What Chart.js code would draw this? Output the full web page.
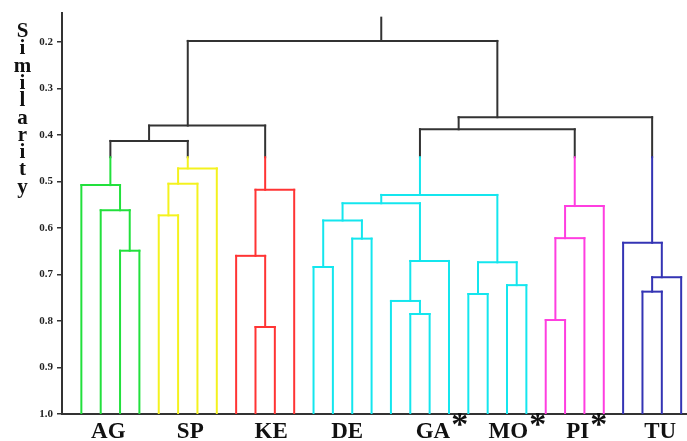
<!DOCTYPE html>
<html>
<head>
<meta charset="utf-8">
<script src="https://cdn.jsdelivr.net/npm/chart.js@4/dist/chart.umd.min.js"></script>
<style>
  html, body { margin: 0; padding: 0; background: #ffffff; }
  #wrap { width: 687px; height: 441px; position: relative; }
</style>
</head>
<body>
<div id="wrap"><canvas id="c" width="687" height="441"></canvas></div>
<script>
// ---------------- DATA ----------------
const groupLabels = ['AG', 'SP', 'KE', 'DE', 'GA', 'MO', 'PI', 'TU'];
const groupMarked = [false, false, false, false, true, true, true, false];
// cluster index of each of the 32 leaves (left to right)
const leafCluster = [0,0,0,0, 1,1,1,1, 2,2,2,2, 3,3,3,3,3,3,3,3,3,3,3,3, 4,4,4,4, 5,5,5,5];
// leaf index range of each label group
const groupFirstLeaf = [0, 4, 8, 12, 16, 20, 24, 28];
const groupLastLeaf  = [3, 7, 11, 15, 19, 23, 27, 31];
// merges: [childA, childB, similarity]; ids 0..31 are leaves, 32.. are merges in order
const merges = [
  [2, 3, 0.649],   // 32
  [1, 32, 0.562],  // 33
  [0, 33, 0.508],  // 34  AG
  [4, 5, 0.573],   // 35
  [35, 6, 0.505],  // 36
  [36, 7, 0.472],  // 37  SP
  [9, 10, 0.813],  // 38
  [8, 38, 0.660],  // 39
  [39, 11, 0.518], // 40  KE
  [12, 13, 0.684], // 41
  [14, 15, 0.623], // 42
  [41, 42, 0.584], // 43  DE
  [17, 18, 0.785], // 44
  [16, 44, 0.757], // 45
  [45, 19, 0.671], // 46  GA
  [43, 46, 0.547], // 47
  [20, 21, 0.742], // 48
  [22, 23, 0.723], // 49
  [48, 49, 0.674], // 50  MO
  [47, 50, 0.529], // 51  cyan cluster
  [24, 25, 0.798], // 52
  [52, 26, 0.622], // 53
  [53, 27, 0.553], // 54  PI
  [29, 30, 0.737], // 55
  [55, 31, 0.706], // 56
  [28, 56, 0.632], // 57  TU
  [34, 37, 0.413], // 58
  [58, 40, 0.380], // 59
  [51, 54, 0.388], // 60
  [60, 57, 0.362], // 61
  [59, 61, 0.198]  // 62  root
];
const rootStemTop = 0.148;
const colorCut = 0.448;
const yTickValues = [0.2, 0.3, 0.4, 0.5, 0.6, 0.7, 0.8, 0.9, 1.0];
const yTickLabels = ['0.2', '0.3', '0.4', '0.5', '0.6', '0.7', '0.8', '0.9', '1.0'];
const axisTitle = 'Similarity';

// ---------------- STYLE ----------------
const clusterColors = ['#22e03c', '#f4f21e', '#ff3434', '#14e6ee', '#ff3ee0', '#3434b4'];
const trunkColor = '#333333';
const labelNudge = [-2, 2.5, 6, 4.6, 13, 11, 3, 8];
const serif = '"Liberation Serif", "Times New Roman", serif';

// ---------------- TREE GEOMETRY (data space) ----------------
const nLeaves = leafCluster.length;
const nodeX = [], nodeH = [], nodeLeaves = [], nodeCluster = [];
for (let i = 0; i < nLeaves; i++) {
  nodeX[i] = i; nodeH[i] = 1.0; nodeLeaves[i] = [i]; nodeCluster[i] = leafCluster[i];
}
merges.forEach((m, k) => {
  const id = nLeaves + k;
  const lv = nodeLeaves[m[0]].concat(nodeLeaves[m[1]]);
  nodeLeaves[id] = lv;
  nodeX[id] = lv.reduce((a, b) => a + b, 0) / lv.length;
  nodeH[id] = m[2];
  const c0 = nodeCluster[m[0]], c1 = nodeCluster[m[1]];
  nodeCluster[id] = (c0 !== -1 && c0 === c1) ? c0 : -1;
});
const isColored = id => nodeCluster[id] !== -1 && nodeH[id] >= colorCut;
const colorOf = id => isColored(id) ? clusterColors[nodeCluster[id]] : trunkColor;

const segs = [];
function seg(x1, y1, x2, y2, col) { segs.push({ pts: [{x: x1, y: y1}, {x: x2, y: y2}], col }); }
merges.forEach((m, k) => {
  const id = nLeaves + k;
  const h = nodeH[id];
  seg(nodeX[m[0]], h, nodeX[m[1]], h, colorOf(id));
  [m[0], m[1]].forEach(c => {
    const hc = nodeH[c];
    if (isColored(c) && h < colorCut) {
      seg(nodeX[c], hc, nodeX[c], colorCut, colorOf(c));
      seg(nodeX[c], colorCut, nodeX[c], h, trunkColor);
    } else {
      seg(nodeX[c], hc, nodeX[c], h, colorOf(c));
    }
  });
});
const rootId = nLeaves + merges.length - 1;
seg(nodeX[rootId], nodeH[rootId], nodeX[rootId], rootStemTop, trunkColor);

const datasets = segs.map(s => ({
  data: s.pts, borderColor: s.col, backgroundColor: s.col, borderWidth: 2,
  showLine: true, pointRadius: 0, pointHoverRadius: 0, fill: false,
  borderCapStyle: 'square', tension: 0
}));

// ---------------- TEXT PLUGIN ----------------
const textPlugin = {
  id: 'texts',
  afterDraw(chart) {
    const ctx = chart.ctx;
    const xs = chart.scales.x;
    ctx.save();
    ctx.fillStyle = '#111111';
    // stacked axis title
    ctx.font = 'bold 21px ' + serif;
    ctx.textAlign = 'center';
    ctx.textBaseline = 'alphabetic';
    const letters = axisTitle.split('');
    letters.forEach((ch, i) => ctx.fillText(ch, 22.5, 37 + i * 17.3));
    // group labels
    groupLabels.forEach((lab, g) => {
      const mid = (groupFirstLeaf[g] + groupLastLeaf[g]) / 2;
      const cx = xs.getPixelForValue(mid) + labelNudge[g];
      ctx.font = 'bold 23px ' + serif;
      ctx.textAlign = 'center';
      ctx.fillText(lab, cx, 438);
      if (groupMarked[g]) {
        const w = ctx.measureText(lab).width;
        ctx.font = 'bold 34px ' + serif;
        ctx.textAlign = 'left';
        ctx.fillText('*', cx + w / 2 + 1, 435);
      }
    });
    ctx.restore();
  }
};

new Chart(document.getElementById('c'), {
  type: 'scatter',
  data: { datasets },
  options: {
    responsive: false,
    animation: false,
    events: [],
    layout: { padding: { top: 13, right: 1, bottom: 27, left: 0 } },
    plugins: { legend: { display: false }, tooltip: { enabled: false } },
    scales: {
      x: {
        type: 'linear', min: -1, max: 31.25,
        ticks: { display: false },
        grid: { display: false },
        border: { display: true, color: '#333333', width: 2 },
        afterFit: s => { s.height = 0; }
      },
      y: {
        type: 'linear', reverse: true, min: 0.138, max: 1.0,
        afterBuildTicks: s => { s.ticks = yTickValues.map(v => ({ value: v })); },
        ticks: {
          padding: 4,
          color: '#222222',
          font: { family: serif, size: 11, weight: 'bold' },
          callback: (v) => {
            const i = yTickValues.findIndex(t => Math.abs(t - v) < 1e-6);
            return i >= 0 ? yTickLabels[i] : '';
          }
        },
        grid: { display: true, drawOnChartArea: false, drawTicks: true, tickLength: 5, tickColor: '#333333', lineWidth: 1.5 },
        border: { display: true, color: '#333333', width: 2 },
        afterFit: s => { s.width = 62; }
      }
    }
  },
  plugins: [textPlugin]
});
</script>
</body>
</html>
